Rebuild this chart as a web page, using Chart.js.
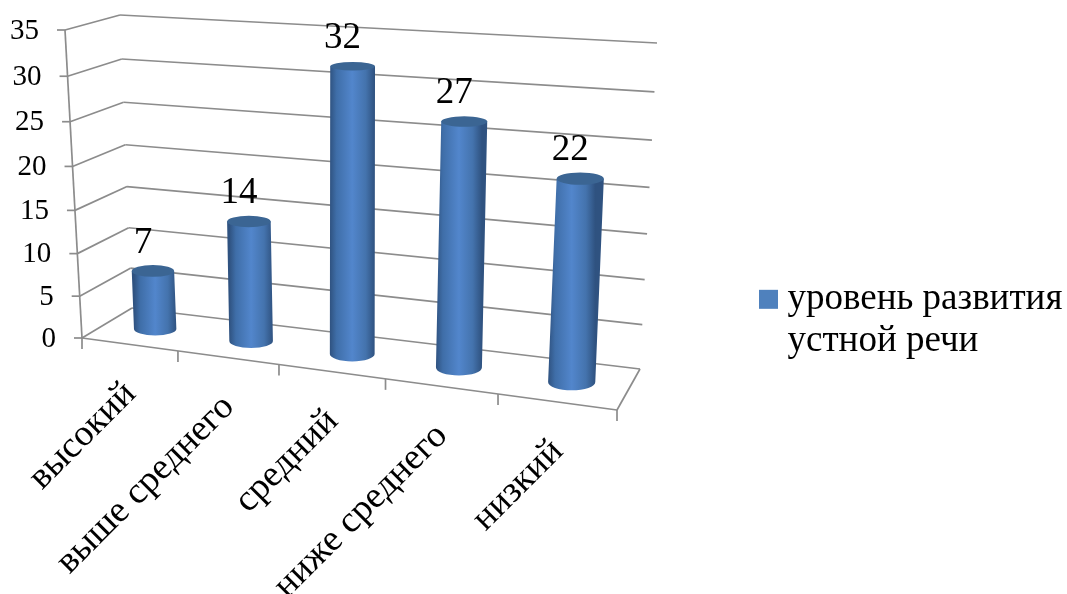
<!DOCTYPE html>
<html lang="ru">
<head>
  <meta charset="UTF-8" />
  <title>уровень развития устной речи</title>
  <script src="https://cdn.jsdelivr.net/npm/chart.js"></script>
  <style>
    html, body { margin: 0; padding: 0; background: #fff; }
    canvas { display: block; }
  </style>
</head>
<body>
  <canvas id="chart" width="1067" height="594"></canvas>

  <script>
    // data
    const categories = ['высокий', 'выше среднего', 'средний', 'ниже среднего', 'низкий'];
    const values = [7, 14, 32, 27, 22];
    const seriesLabel = 'уровень развития устной речи';
    const legendLines = ['уровень развития', 'устной речи'];

    const FONT = '"Liberation Serif", "Times New Roman", serif';
    const GRID = '#8c8c8c';

    // corners of the 3D box on screen: [u][v][d] = right, up, back
    const box = {
      '000': [82, 338], '100': [617, 410], '010': [65, 30], '110': [635, 67],
      '001': [132, 308], '101': [640, 369], '011': [120, 15], '111': [657, 43]
    };

    // perspective makes the steps grow towards the viewer
    const warp = (t, w) => t / (t + w * (1 - t));

    function project(u, v, d) {
      const a = warp(u, 1.144), b = warp(v, 1.06);
      const out = [0, 0];
      ['000', '100', '010', '110', '001', '101', '011', '111'].forEach(k => {
        const f = (k[0] === '1' ? a : 1 - a) * (k[1] === '1' ? b : 1 - b) * (k[2] === '1' ? d : 1 - d);
        out[0] += f * box[k][0];
        out[1] += f * box[k][1];
      });
      return { x: out[0], y: out[1] };
    }

    const uOf = (chart, px) => (px - chart.chartArea.left) / chart.chartArea.width;
    const vOf = (chart, py) => (chart.chartArea.bottom - py) / chart.chartArea.height;

    function line(ctx, p, q) {
      ctx.beginPath();
      ctx.moveTo(p.x, p.y);
      ctx.lineTo(q.x, q.y);
      ctx.stroke();
    }

    function drawCylinder(ctx, chart, el) {
      const u = uOf(chart, el.x);
      const vTop = vOf(chart, el.y), vBase = vOf(chart, el.base);
      const top = project(u, vTop, 0.5), bottom = project(u, vBase, 0.5);
      top.x += 2;
      bottom.x += 2;
      const hw = (el.width / chart.chartArea.width) * 535 * (0.93 + 0.133 * u) / 2;
      const ryOf = v => Math.abs(project(u, v, 0.71).y - project(u, v, 0.29).y) / 2;
      const ryTop = ryOf(vTop), ryBottom = ryOf(vBase);

      const g = ctx.createLinearGradient(bottom.x - hw, 0, bottom.x + hw, 0);
      g.addColorStop(0, '#2f5280');
      g.addColorStop(0.15, '#3f6ea8');
      g.addColorStop(0.5, '#5286cc');
      g.addColorStop(0.8, '#4473ad');
      g.addColorStop(1, '#2f5280');

      ctx.fillStyle = g;
      ctx.beginPath();
      ctx.moveTo(top.x - hw, top.y);
      ctx.lineTo(bottom.x - hw, bottom.y);
      ctx.ellipse(bottom.x, bottom.y, hw, ryBottom, 0, Math.PI, 0, true);
      ctx.lineTo(top.x + hw, top.y);
      ctx.closePath();
      ctx.fill();

      ctx.fillStyle = '#3b6593';
      ctx.beginPath();
      ctx.ellipse(top.x, top.y, hw, ryTop, 0, 0, Math.PI * 2);
      ctx.fill();
      return top;
    }

    const box3d = {
      id: 'box3d',
      // legend is capped at a quarter of the width by the layout, so move it by hand
      afterLayout(chart) {
        chart.legend.left = 758;
      },
      // move the library's own tick labels onto the slanted edges
      beforeDraw(chart) {
        const { x, y } = chart.scales;
        y.getLabelItems().forEach((item, i) => {
          const v = vOf(chart, y.getPixelForValue(y.ticks[i].value));
          const p = project(0, v, 0);
          item.textOffset = 0;
          item.options.textAlign = 'right';
          item.options.textBaseline = 'middle';
          item.options.translation = [p.x - 26, p.y + 1];
        });
        x.getLabelItems().forEach((item, i) => {
          const p = project(uOf(chart, x.getPixelForTick(i)), 0, 0);
          item.textOffset = 0;
          item.options.textAlign = 'right';
          item.options.textBaseline = 'middle';
          item.options.translation = [p.x + 1, p.y + 44];
        });
      },
      beforeDatasetsDraw(chart) {
        const ctx = chart.ctx, y = chart.scales.y;
        ctx.save();
        ctx.strokeStyle = GRID;
        ctx.lineWidth = 1.7;
        y.ticks.forEach(t => {
          const v = vOf(chart, y.getPixelForValue(t.value));
          const front = project(0, v, 0), back = project(0, v, 1);
          line(ctx, { x: front.x - 8, y: front.y }, front);
          line(ctx, front, back);
          line(ctx, back, project(1, v, 1));
        });
        line(ctx, project(0, 1, 0), project(0, 0, 0));
        line(ctx, project(0, 0, 0), project(1, 0, 0));
        line(ctx, project(1, 0, 0), project(1, 0, 1));
        for (let i = 0; i <= categories.length; i++) {
          const p = project(i / categories.length, 0, 0);
          line(ctx, p, { x: p.x, y: p.y + 11 });
        }
        ctx.restore();
      },
      // the cylinders replace the flat bars
      beforeDatasetDraw(chart, args) {
        const ctx = chart.ctx;
        ctx.save();
        const tops = args.meta.data.map(el => drawCylinder(ctx, chart, el));
        ctx.fillStyle = '#000';
        ctx.font = '37px ' + FONT;
        ctx.textAlign = 'center';
        ctx.textBaseline = 'middle';
        tops.forEach((p, i) => ctx.fillText(String(values[i]), p.x - 10, p.y - 28));
        ctx.restore();
        return false;
      }
    };

    new Chart(document.getElementById('chart'), {
      type: 'bar',
      data: {
        labels: categories,
        datasets: [{
          label: seriesLabel,
          data: values,
          backgroundColor: '#4F81BD',
          categoryPercentage: 1,
          barPercentage: 0.42
        }]
      },
      options: {
        responsive: false,
        animation: false,
        layout: { padding: { top: 52, right: 0 } },
        plugins: {
          tooltip: { enabled: false },
          legend: {
            position: 'right',
            labels: {
              // 1px box with a thick border: gives the 19px square and the narrow gap to the text
              boxWidth: 1,
              boxHeight: 1,
              color: '#000',
              font: { family: FONT, size: 37, lineHeight: 1.14 },
              generateLabels: chart => [{
                text: legendLines,
                fillStyle: chart.data.datasets[0].backgroundColor,
                strokeStyle: chart.data.datasets[0].backgroundColor,
                lineWidth: 18,
                datasetIndex: 0
              }]
            }
          }
        },
        scales: {
          x: {
            grid: { display: false },
            border: { display: false },
            ticks: {
              mirror: true,
              autoSkip: false,
              minRotation: 45,
              maxRotation: 45,
              color: '#000',
              font: { family: FONT, size: 37 }
            }
          },
          y: {
            min: 0,
            max: 35,
            grid: { display: false },
            border: { display: false },
            ticks: {
              mirror: true,
              stepSize: 5,
              color: '#000',
              font: { family: FONT, size: 29 }
            }
          }
        }
      },
      plugins: [box3d]
    });
  </script>
</body>
</html>
